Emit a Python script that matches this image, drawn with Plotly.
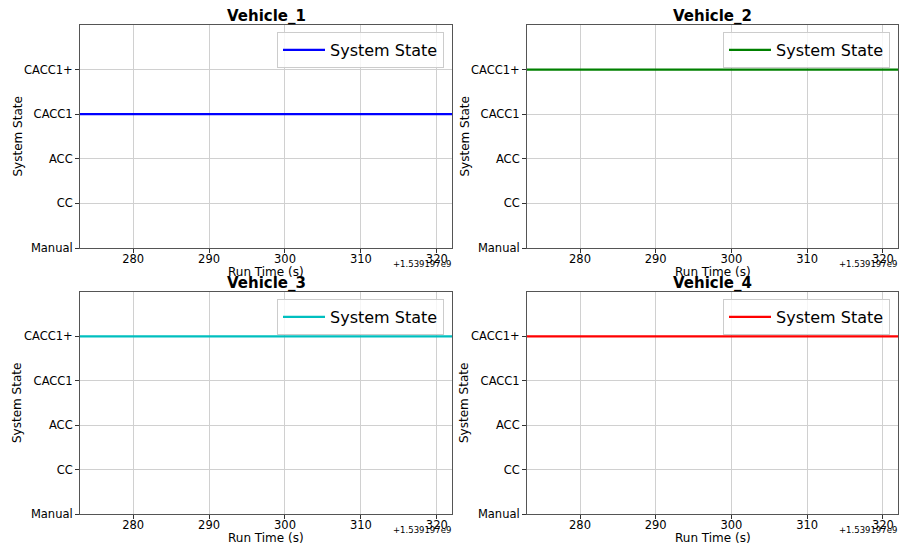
import plotly.graph_objects as go

# ---- data ----
time_offset = 1.539197e9
run_time = [273.0, 280.0, 290.0, 300.0, 310.0, 322.0]  # seconds relative to offset
vehicles = ["Vehicle_1", "Vehicle_2", "Vehicle_3", "Vehicle_4"]
state_v1 = [3, 3, 3, 3, 3, 3]
state_v2 = [4, 4, 4, 4, 4, 4]
state_v3 = [4, 4, 4, 4, 4, 4]
state_v4 = [4, 4, 4, 4, 4, 4]
state_labels = ["Manual", "CC", "ACC", "CACC1", "CACC1+"]
state_values = [0, 1, 2, 3, 4]
x_ticks = [280, 290, 300, 310, 320]
colors = ["#0000ff", "#008000", "#00bfbf", "#ff0000"]

W, H = 899, 550
FONT = "DejaVu Sans"
ML, MR, MT, MB = 80, 0, 25, 36
PW, PH = W - ML - MR, H - MT - MB


def px(xpix):
    return (xpix - ML) / PW


def py(ypix):
    return (H - MB - ypix) / PH


# subplot pixel boxes (left, right, top, bottom)
boxes = [(80, 452, 25, 248), (527, 898, 25, 248),
         (80, 452, 292, 514), (527, 898, 292, 514)]

fig = go.Figure()
series = [state_v1, state_v2, state_v3, state_v4]

layout = dict(
    template="none",
    width=W, height=H,
    margin=dict(l=ML, r=MR, t=MT, b=MB, autoexpand=False),
    paper_bgcolor="white", plot_bgcolor="white",
    font=dict(family=FONT, color="black"),
    showlegend=True,
)
annotations = []
for i, (name, ys, col, (l, r, t, b)) in enumerate(zip(vehicles, series, colors, boxes)):
    n = "" if i == 0 else str(i + 1)
    fig.add_trace(go.Scatter(
        x=run_time, y=ys, mode="lines", name="System State",
        line=dict(color=col, width=2.2),
        xaxis="x" + n, yaxis="y" + n, legend="legend" + n,
    ))
    layout["xaxis" + n] = dict(
        domain=[max(px(l), 0), min(px(r), 1)], anchor="y" + n, range=[273.0, 322.0],
        tickvals=x_ticks, ticks="outside", ticklen=4, tickcolor="#333333", tickwidth=1,
        ticklabelstandoff=-4,
        showgrid=True, gridcolor="#d0d0d0", gridwidth=1,
        showline=True, linecolor="#555555", linewidth=1, mirror=True,
        zeroline=False, automargin=False, tickfont=dict(size=11.5, family=FONT),
    )
    layout["yaxis" + n] = dict(
        domain=[max(py(b), 0), min(py(t), 1)], anchor="x" + n, range=[0, 5],
        tickvals=state_values, ticktext=state_labels,
        ticks="outside", ticklen=4, tickcolor="#333333", tickwidth=1,
        showgrid=True, gridcolor="#d0d0d0", gridwidth=1,
        showline=True, linecolor="#555555", linewidth=1, mirror=True,
        zeroline=False, automargin=False, tickfont=dict(size=11.5, family=FONT),
    )
    layout["legend" + n] = dict(
        x=px(r - 8), y=py(t + 7),
        xanchor="right", yanchor="top", itemwidth=42,
        bgcolor="rgba(255,255,255,0.8)", bordercolor="#cccccc", borderwidth=1,
        font=dict(size=16, family=FONT),
    )
    annotations.append(dict(
        text="<b>" + name + "</b>", x=px((l + r) / 2),
        y=py(t + 2), xref="paper", yref="paper", xanchor="center", yanchor="bottom",
        showarrow=False, font=dict(size=15, family=FONT),
    ))
    annotations.append(dict(
        text="Run Time (s)", x=px((l + r) / 2), y=py(b + 24),
        xref="paper", yref="paper", xanchor="center", yanchor="middle",
        showarrow=False, font=dict(size=12, family=FONT),
    ))
    annotations.append(dict(
        text="System State", x=px(l - 63), y=py((t + b) / 2), textangle=-90,
        xref="paper", yref="paper", xanchor="center", yanchor="middle",
        showarrow=False, font=dict(size=12, family=FONT),
    ))
    annotations.append(dict(
        text="+%.6fe9" % (time_offset / 1e9), x=px(r + 1), y=py(b + 16),
        xref="paper", yref="paper", xanchor="right", yanchor="middle",
        showarrow=False, font=dict(size=8.5, family=FONT),
    ))

layout["annotations"] = annotations
fig.update_layout(**layout)
fig.write_html("out.html", config={"displayModeBar": False},
               post_script="document.body.style.margin='0px';")
